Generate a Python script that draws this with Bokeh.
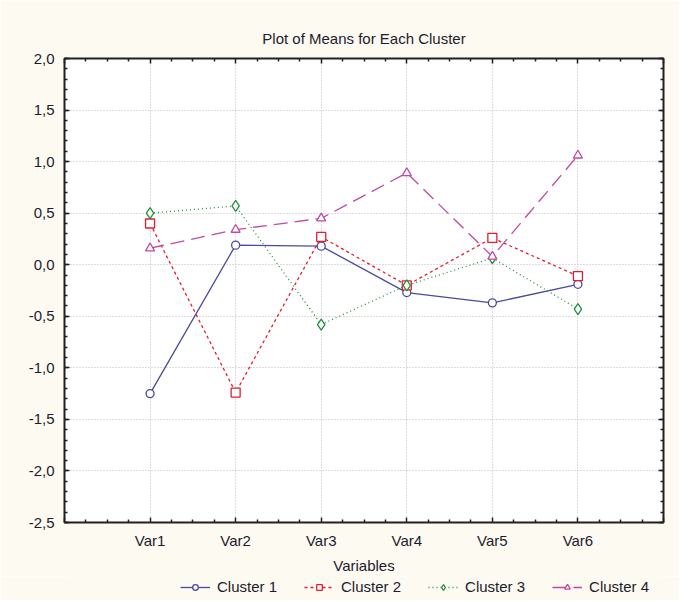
from bokeh.plotting import figure
from bokeh.layouts import column
from bokeh.models import (FixedTicker, LinearAxis, Range1d, Legend, LegendItem,
                          CustomJSTickFormatter)
from bokeh.embed import file_html
from bokeh.resources import INLINE

variables = ["Var1", "Var2", "Var3", "Var4", "Var5", "Var6"]
cluster1 = [-1.25, 0.19, 0.18, -0.27, -0.37, -0.19]
cluster2 = [0.40, -1.24, 0.27, -0.20, 0.26, -0.11]
cluster3 = [0.50, 0.57, -0.58, -0.20, 0.065, -0.43]
cluster4 = [0.16, 0.34, 0.45, 0.89, 0.08, 1.06]
series_names = ["Cluster 1", "Cluster 2", "Cluster 3", "Cluster 4"]
y_ticks = [-2.5, -2.0, -1.5, -1.0, -0.5, 0.0, 0.5, 1.0, 1.5, 2.0]

xs = list(range(1, len(variables) + 1))
FONT = "Liberation Sans"
TXT = "#1c1c2c"
CREAM = "#fdfaf2"
FS = "15px"

p = figure(frame_width=599, frame_height=464, output_backend="svg",
           toolbar_location=None,
           x_range=Range1d(0, len(variables) + 1), y_range=Range1d(-2.5, 2.0),
           min_border_left=64, min_border_right=16, min_border_top=58,
           min_border_bottom=52,
           background_fill_color="white", border_fill_color=CREAM,
           outline_line_color="#202020", outline_line_width=2,
           x_axis_location=None, y_axis_location=None)

p.title.text = "Plot of Means for Each Cluster"
p.title.align = "center"
p.title.text_font = FONT
p.title.text_font_size = FS
p.title.text_font_style = "normal"
p.title.text_color = TXT
p.title.offset = 0
p.title.standoff = 24

x_major = list(range(0, len(variables) + 2))
x_minor = [i + f / 4 for i in range(0, len(variables) + 1) for f in (1, 2, 3)]
y_minor = [round(-2.5 + 0.1 * k, 2) for k in range(46)]

blank = CustomJSTickFormatter(code="return '';")

def style_axis(ax, labels=True):
    ax.axis_line_color = None
    ax.major_tick_in = 5
    ax.major_tick_out = 0
    ax.minor_tick_in = 3
    ax.minor_tick_out = 0
    ax.major_tick_line_color = "#202020"
    ax.minor_tick_line_color = "#202020"
    ax.major_tick_line_width = 1.5
    ax.minor_tick_line_width = 1.5
    ax.major_label_text_font = FONT
    ax.major_label_text_font_size = FS
    ax.major_label_text_color = TXT
    if not labels:
        ax.formatter = blank
        ax.major_label_standoff = 0

xt = FixedTicker(ticks=x_major, minor_ticks=x_minor)
yt = FixedTicker(ticks=y_ticks, minor_ticks=y_minor)

xb = LinearAxis(ticker=xt)
xb.major_label_overrides = {i + 1: v for i, v in enumerate(variables)}
xb.major_label_overrides.update({0: "", len(variables) + 1: ""})
style_axis(xb)
xb.major_label_standoff = 9
xb.axis_label = "Variables"
xb.axis_label_text_font = FONT
xb.axis_label_text_font_size = FS
xb.axis_label_text_font_style = "normal"
xb.axis_label_text_color = TXT
xb.axis_label_standoff = 5
p.add_layout(xb, "below")

xtop = LinearAxis(ticker=xt)
style_axis(xtop, labels=False)
p.add_layout(xtop, "above")

yl = LinearAxis(ticker=yt)
yl.major_label_overrides = {t: f"{t:.1f}".replace(".", ",") for t in y_ticks}
style_axis(yl)
yl.major_label_standoff = 10
p.add_layout(yl, "left")

yr = LinearAxis(ticker=yt)
style_axis(yr, labels=False)
p.add_layout(yr, "right")

p.xgrid.ticker = xt
p.ygrid.ticker = yt
for g in (p.xgrid, p.ygrid):
    g.grid_line_color = "#b8b8b8"
    g.grid_line_dash = "1 2"
    g.grid_line_width = 1

styles = [
    dict(color="#4a4a9e", dash="solid", marker="circle", size=8),
    dict(color="#e41e2e", dash="3 3", marker="square", size=9),
    dict(color="#23913a", dash="1 3", marker="diamond", size=11),
    dict(color="#c04aa0", dash="14 7", marker="triangle", size=9),
]
all_series = [cluster1, cluster2, cluster3, cluster4]
for vals, st in zip(all_series, styles):
    p.line(xs, vals, line_color=st["color"], line_dash=st["dash"], line_width=1.3)
    p.scatter(xs, vals, marker=st["marker"], size=st["size"],
              line_color=st["color"], fill_color="white", line_width=1.3)

# legend strip below the chart
lg = figure(width=679, height=24, output_backend="svg", toolbar_location=None,
            x_range=Range1d(0, len(variables) + 1), y_range=Range1d(-2.5, 2.0),
            min_border=0, x_axis_location=None, y_axis_location=None,
            outline_line_color=None, background_fill_color=CREAM,
            border_fill_color=CREAM)
lg.grid.visible = False
items = []
for name, vals, st in zip(series_names, all_series, styles):
    ln = lg.line(xs, vals, line_color=st["color"], line_dash=st["dash"],
                 line_width=1.3, visible=False)
    sc = lg.scatter(xs, vals, marker=st["marker"], size=st["size"],
                    line_color=st["color"], fill_color="white", line_width=1.3,
                    visible=False)
    items.append(LegendItem(label=name, renderers=[ln, sc]))

legend = Legend(items=items, orientation="horizontal", location=(116, 5),
                background_fill_alpha=0, border_line_color=None,
                inactive_fill_alpha=0,
                label_text_font=FONT, label_text_font_size=FS,
                label_text_color=TXT, glyph_width=30, glyph_height=14,
                label_height=14, label_standoff=7, spacing=27,
                padding=0, margin=0)
lg.add_layout(legend, "center")

layout = column(p, lg, spacing=0)
open("out.html", "w").write(file_html(layout, INLINE))
